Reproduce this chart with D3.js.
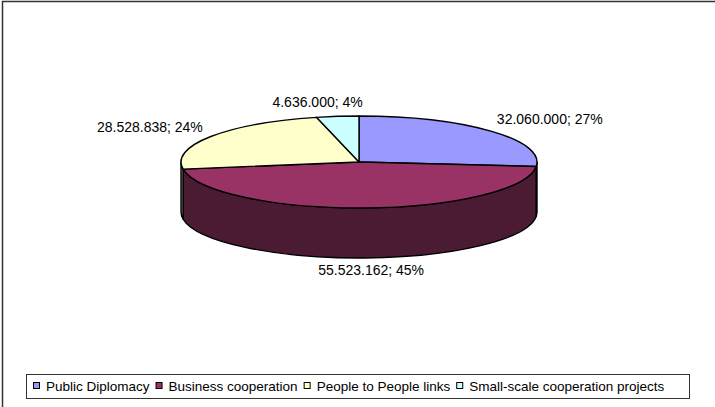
<!DOCTYPE html>
<html>
<head>
<meta charset="utf-8">
<script src="https://cdn.jsdelivr.net/npm/d3@7"></script>
<style>
  body { margin: 0; background: #fff; }
  svg { display: block; font-family: Arial, "Liberation Sans", sans-serif; }
</style>
</head>
<body>
<svg id="chart" width="715" height="407"></svg>
<script>
// Data
var categories = ["Public Diplomacy", "Business cooperation", "People to People links", "Small-scale cooperation projects"];
var values = [32060000, 55523162, 28528838, 4636000];
var percentLabels = ["27%", "45%", "24%", "4%"];

// Colours (Excel default palette)
var topColors = ["#9999FF", "#993366", "#FFFFCC", "#CCFFFF"];
var sideColors = ["#4D4D80", "#4B1A33", "#808066", "#668080"];

// label placement relative to the rim point at each slice's middle angle
var labelLayout = [
    { dx: 6, dy: -7, anchor: "start" },
    { dx: 7, dy: 17, anchor: "middle" },
    { dx: -8, dy: -5, anchor: "end" },
    { dx: -20, dy: -9, anchor: "middle" }
];

var svg = d3.select("#chart");

// outer chart border
svg.append("rect")
    .attr("x", 2.5).attr("y", 1.5)
    .attr("width", 730).attr("height", 430)
    .attr("fill", "none")
    .attr("stroke", "#333")
    .attr("stroke-width", 1.5);

var cx = 359, cy = 162, rx = 178, ry = 46, depth = 50;

// number format like "32.060.000"
var fmt = d3.formatLocale({ decimal: ",", thousands: ".", grouping: [3], currency: ["", ""] }).format(",d");

var pie = d3.pie().sort(null).value(d => d);
var arcs = pie(values);

function pt(a, dy) {
    return [cx + rx * Math.sin(a), cy - ry * Math.cos(a) + (dy || 0)];
}

function topPath(d) {
    var p0 = pt(d.startAngle), p1 = pt(d.endAngle);
    var large = (d.endAngle - d.startAngle) > Math.PI ? 1 : 0;
    return "M" + cx + "," + cy + "L" + p0 + "A" + rx + "," + ry + " 0 " + large + " 1 " + p1 + "Z";
}

function sidePath(d) {
    var s = Math.max(d.startAngle, Math.PI / 2);
    var e = Math.min(d.endAngle, 3 * Math.PI / 2);
    if (e <= s) return null;
    var a = pt(s), b = pt(e), b2 = pt(e, depth), a2 = pt(s, depth);
    return "M" + a + "A" + rx + "," + ry + " 0 0 1 " + b + "L" + b2 +
        "A" + rx + "," + ry + " 0 0 0 " + a2 + "Z";
}

// sides first
svg.append("g").selectAll("path")
    .data(arcs.filter(d => sidePath(d)))
    .join("path")
    .attr("d", sidePath)
    .attr("fill", d => sideColors[d.index])
    .attr("stroke", "#000")
    .attr("stroke-width", 1.4)
    .attr("stroke-linejoin", "round");

// top faces
svg.append("g").selectAll("path")
    .data(arcs)
    .join("path")
    .attr("d", topPath)
    .attr("fill", d => topColors[d.index])
    .attr("stroke", "#000")
    .attr("stroke-width", 1.4)
    .attr("stroke-linejoin", "round");

// data labels
svg.append("g").selectAll("text")
    .data(arcs)
    .join("text")
    .attr("x", d => {
        var m = (d.startAngle + d.endAngle) / 2;
        return pt(m)[0] + labelLayout[d.index].dx;
    })
    .attr("y", d => {
        var m = (d.startAngle + d.endAngle) / 2;
        var front = Math.cos(m) < 0 ? depth : 0;
        return pt(m, front)[1] + labelLayout[d.index].dy;
    })
    .attr("text-anchor", d => labelLayout[d.index].anchor)
    .attr("font-size", "14px")
    .attr("fill", "#000")
    .text(d => fmt(d.data) + "; " + percentLabels[d.index]);

// legend
var legend = svg.append("g");
legend.append("rect")
    .attr("x", 26.5).attr("y", 374.5)
    .attr("width", 663).attr("height", 24)
    .attr("fill", "#fff")
    .attr("stroke", "#333")
    .attr("stroke-width", 1);

var lx = 33;
categories.forEach((name, i) => {
    legend.append("rect")
        .attr("x", lx + 0.5).attr("y", 382.5)
        .attr("width", 6).attr("height", 6)
        .attr("fill", topColors[i])
        .attr("stroke", "#000")
        .attr("stroke-width", 1);
    var t = legend.append("text")
        .attr("x", lx + 13).attr("y", 390.5)
        .attr("font-size", "13.5px")
        .attr("fill", "#000")
        .text(name);
    lx += 13 + t.node().getComputedTextLength() + 6;
});
</script>
</body>
</html>
